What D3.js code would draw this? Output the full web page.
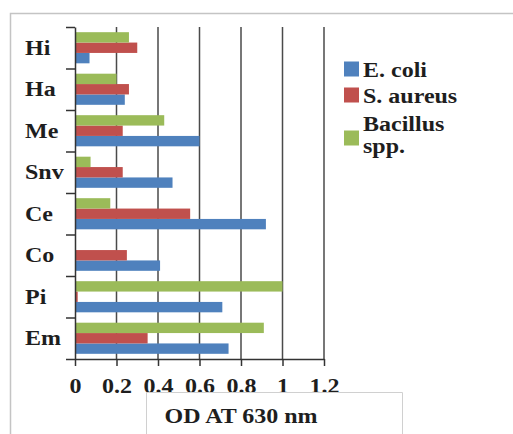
<html>
  <head>
    <script src="https://cdn.jsdelivr.net/npm/d3@7"></script>
    <style>
      body { margin: 0; background: #fff; }
      text { font-family: "Liberation Serif", "Times New Roman", serif; font-weight: bold; fill: #1e1e1e; }
    </style>
  </head>
  <body>
    <svg id="chart" width="513" height="434"></svg>
    <script>
      // values, top category first
      var cats = ["Hi", "Ha", "Me", "Snv", "Ce", "Co", "Pi", "Em"];
      var ecoli = [0.07, 0.24, 0.60, 0.47, 0.92, 0.41, 0.71, 0.74];
      var saureus = [0.30, 0.26, 0.23, 0.23, 0.555, 0.25, 0.013, 0.35];
      var bacillus = [0.26, 0.20, 0.43, 0.075, 0.17, 0, 1.00, 0.91];
      var xTicks = [0, 0.2, 0.4, 0.6, 0.8, 1, 1.2];
      var seriesNames = ["E. coli", "S. aureus", "Bacillus spp."];
      var colors = ["#4f81bd", "#c0504d", "#9bbb59"];

      var series = [ecoli, saureus, bacillus];
      var svg = d3.select("#chart");
      var sx = 1.2; // text in the picture is a bit wide

      // outer frame
      svg.append("path").attr("d", "M10.5,434V13.5H513")
        .attr("fill", "none").attr("stroke", "#c4c4c4").attr("stroke-width", 1.5);

      var x = d3.scaleLinear().domain([0, 1.2]).range([75, 324]);
      var y = d3.scaleBand().domain(cats).range([27, 359]).paddingInner(0.25).paddingOuter(0.125);
      var yb = d3.scaleLinear().domain([0, cats.length]).range([27, 359]);
      // bars inside a group: Bacillus on top, then S. aureus, then E. coli
      var sub = d3.scaleBand().domain([2, 1, 0]).range([0, y.bandwidth()]);

      // grid
      svg.append("g").selectAll("line").data(xTicks.slice(1)).enter().append("line")
        .attr("x1", function (d) { return x(d); }).attr("x2", function (d) { return x(d); })
        .attr("y1", 27).attr("y2", 359)
        .attr("stroke", "#4a4a4a").attr("stroke-width", 1.5);

      // bars
      series.forEach(function (vals, si) {
        svg.append("g").selectAll("rect").data(vals).enter().append("rect")
          .attr("x", x(0))
          .attr("y", function (d, i) { return y(cats[i]) + sub(si); })
          .attr("width", function (d) { return x(d) - x(0); })
          .attr("height", sub.bandwidth())
          .attr("fill", colors[si]);
      });

      // x axis
      var xAxis = d3.axisBottom(x).tickValues(xTicks).tickFormat(d3.format("~g"))
        .tickSizeInner(7).tickSizeOuter(0).tickPadding(13);
      var gx = svg.append("g").attr("transform", "translate(0,359)").call(xAxis);
      gx.select(".domain").attr("stroke", "#333").attr("stroke-width", 1.5);
      gx.selectAll(".tick line").attr("stroke", "#333").attr("stroke-width", 1.5);
      gx.selectAll("text").attr("font-size", 20).attr("font-family", null)
        .attr("fill", "#1e1e1e").attr("transform", "scale(" + sx + ",1)");

      // y axis, ticks on category boundaries
      var yAxis = d3.axisLeft(yb).tickValues(d3.range(cats.length + 1)).tickFormat("")
        .tickSizeInner(9).tickSizeOuter(0);
      var gy = svg.append("g").attr("transform", "translate(75,0)").call(yAxis);
      gy.select(".domain").attr("stroke", "#333").attr("stroke-width", 1.5);
      gy.selectAll(".tick line").attr("stroke", "#333").attr("stroke-width", 1.5);

      // category labels, left aligned
      svg.append("g").selectAll("text").data(cats).enter().append("text")
        .attr("transform", function (d) { return "translate(25," + (y(d) + y.bandwidth() / 2 + 7) + ") scale(" + sx + ",1)"; })
        .attr("font-size", 20)
        .text(function (d) { return d; });

      // axis title box
      svg.append("path").attr("d", "M146.5,434V392.5H402.5V434")
        .attr("fill", "none").attr("stroke", "#d0d0d0").attr("stroke-width", 1);
      svg.append("text")
        .attr("transform", "translate(241,423) scale(" + sx + ",1)")
        .attr("text-anchor", "middle").attr("font-size", 20)
        .text("OD AT 630 nm");

      // legend
      var legLines = [["E. coli"], ["S. aureus"], ["Bacillus", "spp."]];
      var legBase = [77, 103, 131];
      var leg = svg.append("g");
      legLines.forEach(function (lines, i) {
        var cy = lines.length > 1 ? legBase[i] + 7 : legBase[i] - 8;
        leg.append("rect").attr("x", 344).attr("y", cy - 7.5).attr("width", 15).attr("height", 15)
          .attr("fill", colors[i]);
        lines.forEach(function (t, j) {
          leg.append("text")
            .attr("transform", "translate(363," + (legBase[i] + j * 22) + ") scale(" + sx + ",1)")
            .attr("font-size", 20)
            .text(t);
        });
      });
    </script>
  </body>
</html>
